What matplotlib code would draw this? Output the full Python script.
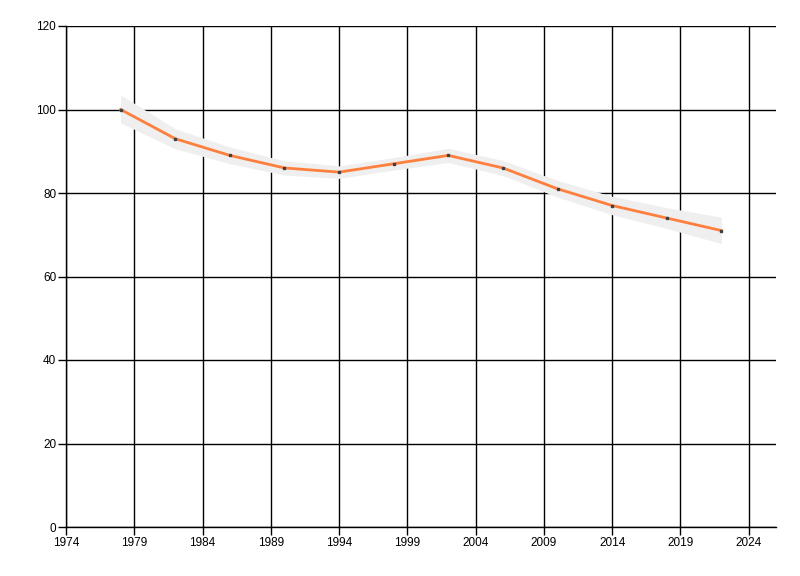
import matplotlib
matplotlib.use('agg')
import matplotlib.pyplot as plt

years = [1978, 1982, 1986, 1990, 1994, 1998, 2002, 2006, 2010, 2014, 2018, 2022]
values = [100, 93, 89, 86, 85, 87, 89, 86, 81, 77, 74, 71]
band_lower = [96.8, 90.6, 87.0, 84.3, 83.5, 85.5, 87.3, 84.2, 79.0, 74.8, 71.5, 67.9]
band_upper = [103.5, 95.4, 91.0, 87.7, 86.5, 88.5, 90.7, 87.8, 83.0, 79.2, 76.5, 74.2]
x_ticks = list(range(1974, 2025, 5))
y_ticks = list(range(0, 121, 20))

plt.rcParams['font.family'] = ['Liberation Sans', 'DejaVu Sans']

fig = plt.figure(figsize=(8, 5.76), dpi=100)
ax = fig.add_axes([66 / 800, 1 - 527 / 576, (776 - 66) / 800, (527 - 26) / 576])

ax.fill_between(years, band_lower, band_upper, color='#efefef', linewidth=0, zorder=2)
ax.plot(years, values, color='#ff7f3f', linewidth=2, zorder=3)
ax.plot(years, values, linestyle='none', marker='s', markersize=2,
        color='#404040', zorder=4)

ax.set_xlim(1974, 2026)
ax.set_ylim(0, 120)
ax.set_xticks(x_ticks)
ax.set_yticks(y_ticks)
ax.grid(True, color='black', linewidth=1)
ax.set_axisbelow(True)

for side in ['top', 'right']:
    ax.spines[side].set_visible(False)
for side in ['left', 'bottom']:
    ax.spines[side].set_color('black')
    ax.spines[side].set_linewidth(1)

ax.tick_params(axis='both', length=6, width=1, color='black', labelsize=8.5,
               labelcolor='black', pad=1)

fig.savefig('out.png', dpi=100)
